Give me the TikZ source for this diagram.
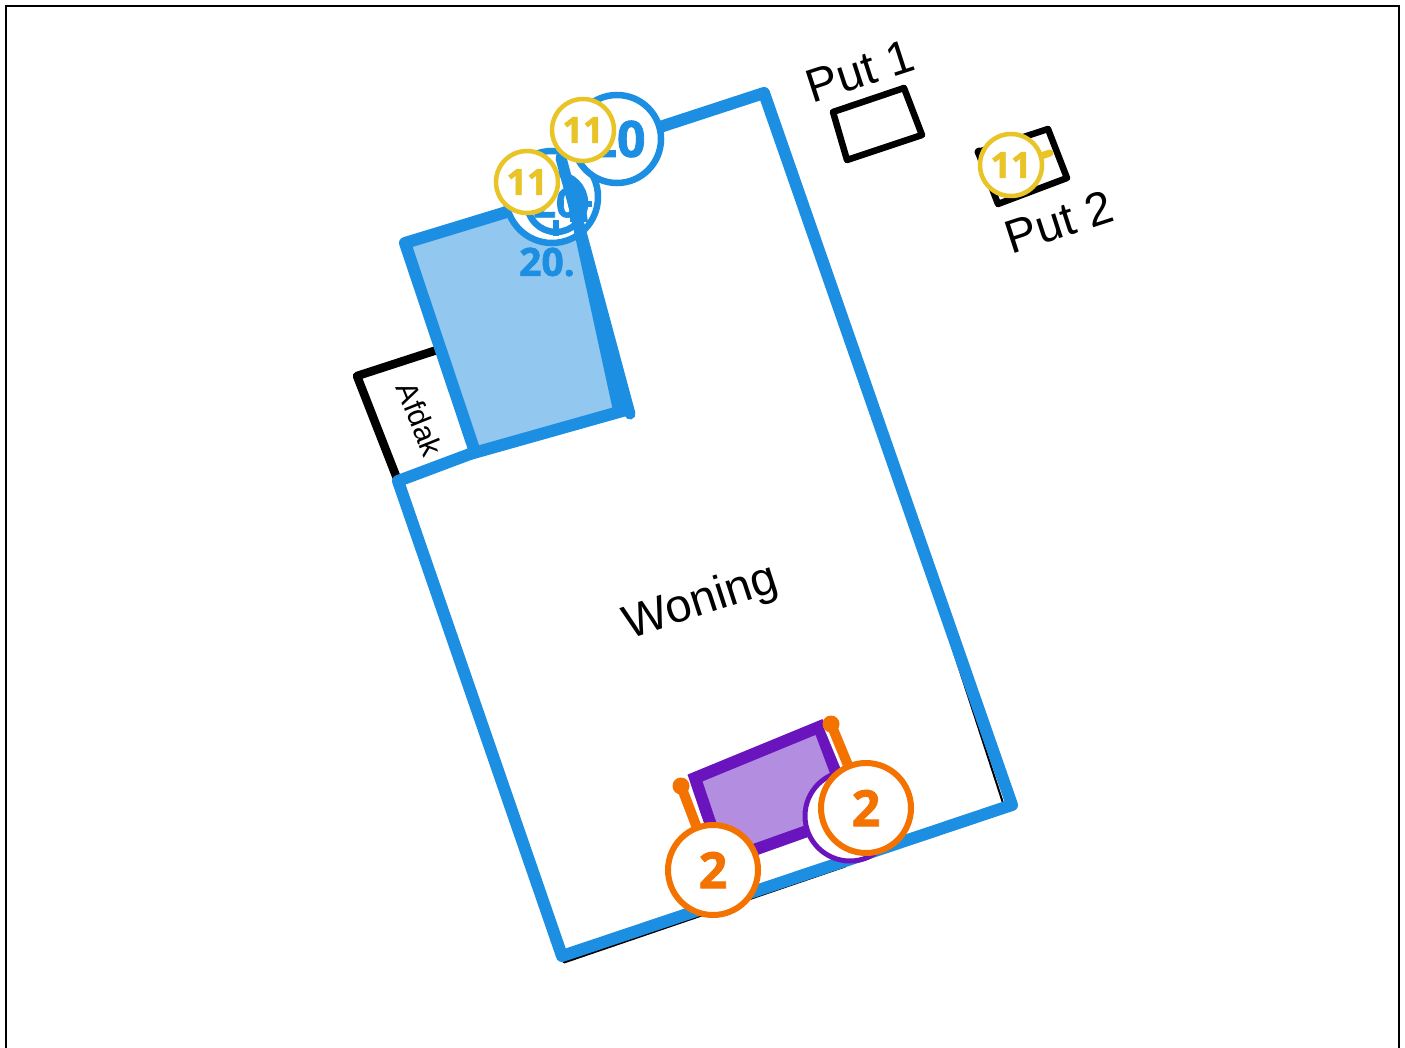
\documentclass[tikz,border=0pt]{standalone}
\usepackage{fontspec}
\setmainfont{Liberation Sans}
\newfontfamily\numfont[BoldFeatures={FakeBold=1.6}]{Open Sans}
\definecolor{wall}{HTML}{1C8FE3}
\definecolor{roomfill}{HTML}{92C8F0}
\definecolor{purp}{HTML}{6A14BD}
\definecolor{purpfill}{HTML}{B38DE0}
\definecolor{oran}{HTML}{F37200}
\definecolor{yell}{HTML}{E8C427}
\tikzset{
  wallline/.style={draw=wall,line width=12pt,line join=round,line cap=round},
  blackline/.style={draw=black,line join=round,line cap=round},
  marker/.style={circle,fill=white,inner sep=0pt,outer sep=0pt,font=\numfont\bfseries},
  bluemark/.style={marker,draw=wall,line width=6.5pt,minimum size=88pt,text=wall},
  orangemark/.style={marker,draw=oran,line width=6pt,minimum size=90pt,text=oran},
  yellowmark/.style={marker,draw=yell,line width=4.5pt,minimum size=62pt,text=yell},
  stub/.style={line width=10pt,draw=oran},
  lab/.style={inner sep=0pt,text=black}
}
\newcommand{\fs}[1]{\fontsize{#1}{#1}\selectfont}
\begin{document}
\begin{tikzpicture}[x=1pt,y=-1pt]
\useasboundingbox (0,0) rectangle (1405,1048);
\fill[white] (0,0) rectangle (1405,1048);
% frame
\draw[black,line width=2pt] (6,1060) -- (6,6) -- (1399,6) -- (1399,1060);
% outbuildings
\draw[blackline,line width=8.5pt] (437,350) -- (357,376) -- (398,481);
\draw[blackline,line width=6.5pt] (833,112) -- (904,88) -- (922,135) -- (847,160) -- cycle;
\draw[blackline,line width=6.5pt] (978,152) -- (1048,129) -- (1067,178) -- (998,204) -- cycle;
\node[lab,rotate=18,font=\fs{47}] (put1) at (860,71) {Put 1};
\node[lab,rotate=18,font=\fs{47}] (put2) at (1059,222) {Put 2};
\node[lab,rotate=-68,font=\fs{30}] (afdak) at (420,419) {Afdak};
\node[lab,rotate=18,font=\fs{47}] (woning) at (701,603) {Woning};
% black sliver under the house outline
\draw[blackline,line width=3pt] (564,962) -- (845,866);
\draw[blackline,line width=2pt] (1003,803) -- (945,625);
% purple room
\draw[purp,line width=12pt,fill=purpfill,line join=miter] (695,778) -- (819,727) -- (852,815) -- (723,861) -- cycle;
\coordinate (s1a) at (681,786);
\coordinate (s2a) at (831,724);
\coordinate (s3a) at (1050,153);
% blue room
\fill[roomfill] (405,243) -- (505,212) -- (562,170) -- (624,412) -- (473,453) -- cycle;
% house
\draw[wallline] (660,127) -- (764,93) -- (1012,805) -- (562,956) -- (398,481) -- (470,454);
\draw[wallline] (470,454) -- (626,410);
\draw[wallline] (475,452) -- (405,243) -- (510,211);
% blue markers beneath the wall
\node[lab,text=wall,font=\numfont\bfseries\fs{39}] (lbl) at (547,262) {20.};
\node[bluemark,minimum size=92pt] (b1) at (552,197) {};
\node[marker,draw=wall,line width=6.5pt,minimum size=58pt,text=wall,font=\numfont\bfseries\fs{40}] (b2) at (556,203) {20};
\draw[wall,line width=6.5pt] (556,220) -- (556,236);
\draw[wall,line width=6.5pt] (572,204) -- (592,204);
% thick wall
\draw[wallline,line width=11pt] (561,158) -- (630,414);
\draw[wallline,line width=11pt,line cap=butt] (568,178) -- (618,408);
\fill[wall] (572,180) -- (584,197) -- (588,222) -- (570,222) -- cycle;
% orange stubs
\draw[white,line width=16pt] (s2a) -- (852,775);
\draw[white,line width=16pt] (s1a) -- (697,828);
\draw[stub] (s1a) -- (697,828);
\draw[stub] (s2a) -- (852,775);
\fill[oran] (s1a) circle (8.5pt);
\fill[oran] (s2a) circle (8.5pt);
% purple marker
\node[marker,draw=purp,line width=5pt,minimum size=90pt] (p1) at (850,816) {};
% markers
\node[orangemark,font=\numfont\bfseries\fs{50}] (o1) at (713,870) {2};
\node[orangemark,font=\numfont\bfseries\fs{50}] (o2) at (866,808) {2};
\node[bluemark,font=\numfont\bfseries\fs{50}] (b3) at (617,139) {20};
\draw[yell,line width=7pt,line cap=round] (1035,158) -- (s3a);
\fill[black] (979,152) circle (4.5pt);
\node[yellowmark,font=\numfont\bfseries\fs{36}] (y1) at (527,182) {11};
\node[yellowmark,font=\numfont\bfseries\fs{36}] (y2) at (583,130) {11};
\node[yellowmark,font=\numfont\bfseries\fs{36}] (y3) at (1011,165) {11};
\end{tikzpicture}
\end{document}
